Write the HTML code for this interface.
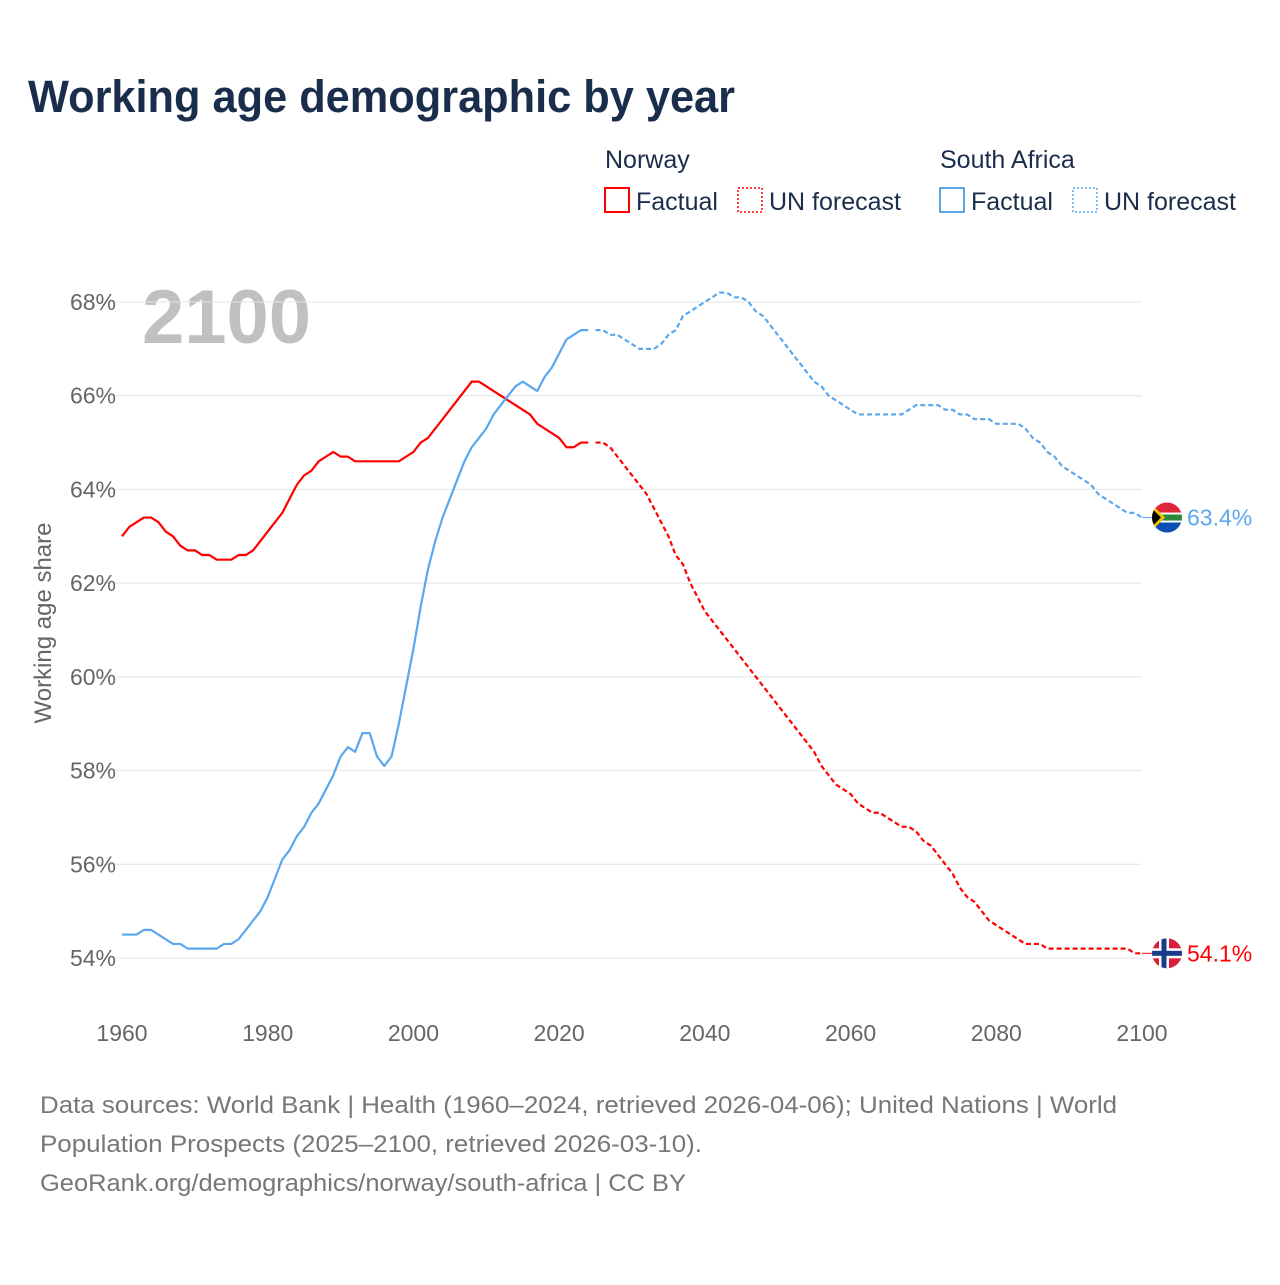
<!DOCTYPE html>
<html><head><meta charset="utf-8"><style>
body{margin:0;background:#fff;font-family:"Liberation Sans",sans-serif}
svg text{font-family:"Liberation Sans",sans-serif}
</style></head><body>
<svg id="c" width="1280" height="1280" viewBox="0 0 1280 1280" xmlns="http://www.w3.org/2000/svg">
<text x="28" y="112" font-size="45" font-weight="bold" fill="#1a2e4c" textLength="707" lengthAdjust="spacingAndGlyphs">Working age demographic by year</text>
<g font-size="25" fill="#1a2e4c">
<text x="605" y="168">Norway</text>
<text x="940" y="168">South Africa</text>
<g><rect x="605" y="188" width="24" height="24" fill="none" stroke="#f00" stroke-width="2"/><text x="636" y="210">Factual</text></g>
<g><rect x="738" y="188" width="24" height="24" fill="none" stroke="#f00" stroke-width="1.5" stroke-dasharray="2,2"/><text x="769" y="210">UN forecast</text></g>
<g><rect x="940" y="188" width="24" height="24" fill="none" stroke="#5aa7ee" stroke-width="2"/><text x="971" y="210">Factual</text></g>
<g><rect x="1073" y="188" width="24" height="24" fill="none" stroke="#5aa7ee" stroke-width="1.5" stroke-dasharray="2,2"/><text x="1104" y="210">UN forecast</text></g>
</g>
<text x="142" y="343" font-size="76" font-weight="bold" fill="#c0c0c0">2100</text>
<g id="grid"></g><g id="lines"></g>
<text transform="translate(51,623) rotate(-90)" text-anchor="middle" font-size="24" fill="#666">Working age share</text>
<g font-size="24" fill="#777">
<text x="40" y="1113" textLength="1077" lengthAdjust="spacingAndGlyphs">Data sources: World Bank | Health (1960–2024, retrieved 2026-04-06); United Nations | World</text>
<text x="40" y="1152" textLength="662" lengthAdjust="spacingAndGlyphs">Population Prospects (2025–2100, retrieved 2026-03-10).</text>
<text x="40" y="1191" textLength="646" lengthAdjust="spacingAndGlyphs">GeoRank.org/demographics/norway/south-africa | CC BY</text>
</g>
</svg>
<script>
const yTicks=[54,56,58,60,62,64,66,68];
const xTicks=[1960,1980,2000,2020,2040,2060,2080,2100];
const norFact=[63.0,63.2,63.3,63.4,63.4,63.3,63.1,63.0,62.8,62.7,62.7,62.6,62.6,62.5,62.5,62.5,62.6,62.6,62.7,62.9,63.1,63.3,63.5,63.8,64.1,64.3,64.4,64.6,64.7,64.8,64.7,64.7,64.6,64.6,64.6,64.6,64.6,64.6,64.6,64.7,64.8,65.0,65.1,65.3,65.5,65.7,65.9,66.1,66.3,66.3,66.2,66.1,66.0,65.9,65.8,65.7,65.6,65.4,65.3,65.2,65.1,64.9,64.9,65.0,65.0];
const norFc=[65.0,65.0,64.9,64.7,64.5,64.3,64.1,63.9,63.6,63.3,63.0,62.6,62.4,62.0,61.7,61.4,61.2,61.0,60.8,60.6,60.4,60.2,60.0,59.8,59.6,59.4,59.2,59.0,58.8,58.6,58.4,58.1,57.9,57.7,57.6,57.5,57.3,57.2,57.1,57.1,57.0,56.9,56.8,56.8,56.7,56.5,56.4,56.2,56.0,55.8,55.5,55.3,55.2,55.0,54.8,54.7,54.6,54.5,54.4,54.3,54.3,54.3,54.2,54.2,54.2,54.2,54.2,54.2,54.2,54.2,54.2,54.2,54.2,54.2,54.1,54.1];
const saFact=[54.5,54.5,54.5,54.6,54.6,54.5,54.4,54.3,54.3,54.2,54.2,54.2,54.2,54.2,54.3,54.3,54.4,54.6,54.8,55.0,55.3,55.7,56.1,56.3,56.6,56.8,57.1,57.3,57.6,57.9,58.3,58.5,58.4,58.8,58.8,58.3,58.1,58.3,59.0,59.8,60.6,61.5,62.3,62.9,63.4,63.8,64.2,64.6,64.9,65.1,65.3,65.6,65.8,66.0,66.2,66.3,66.2,66.1,66.4,66.6,66.9,67.2,67.3,67.4,67.4];
const saFc=[67.4,67.4,67.3,67.3,67.2,67.1,67.0,67.0,67.0,67.1,67.3,67.4,67.7,67.8,67.9,68.0,68.1,68.2,68.2,68.1,68.1,68.0,67.8,67.7,67.5,67.3,67.1,66.9,66.7,66.5,66.3,66.2,66.0,65.9,65.8,65.7,65.6,65.6,65.6,65.6,65.6,65.6,65.6,65.7,65.8,65.8,65.8,65.8,65.7,65.7,65.6,65.6,65.5,65.5,65.5,65.4,65.4,65.4,65.4,65.3,65.1,65.0,64.8,64.7,64.5,64.4,64.3,64.2,64.1,63.9,63.8,63.7,63.6,63.5,63.5,63.4];
const X=y=>122+(y-1960)*1020/140, Y=v=>302+(68-v)*656/14;
const NS="http://www.w3.org/2000/svg";
const grid=document.getElementById('grid'), lines=document.getElementById('lines'), svg=document.getElementById('c');
function mk(t,a,p){const e=document.createElementNS(NS,t);for(const k in a)e.setAttribute(k,a[k]);(p||svg).appendChild(e);return e;}
yTicks.forEach(v=>{
 const l=mk('line',{x1:100,x2:1142,y1:Y(v),y2:Y(v),stroke:'#e4e4e4','stroke-width':1},grid);
 
 
 const t=mk('text',{x:116,y:Y(v)+8,'text-anchor':'end','font-size':23,fill:'#666'},grid);t.textContent=v+'%';
 
 
});
xTicks.forEach(y=>{
 const t=mk('text',{x:X(y),y:1041,'text-anchor':'middle','font-size':23,fill:'#666'},grid);t.textContent=y;
 
 
});
function path(arr,start,color,dash,name){
 const d=arr.map((v,i)=>(i?'L':'M')+X(start+i).toFixed(2)+','+Y(v).toFixed(2)).join('');
 const p=mk('path',{d:d,fill:'none',stroke:color,'stroke-width':2.2,'stroke-linejoin':'round'},lines);
 if(dash)p.setAttribute('stroke-dasharray',dash);
 
 
}
path(norFact,1960,'#f00',null,'norway-factual-line');
path(norFc,2025,'#f00','5,3','norway-forecast-line');
path(saFact,1960,'#5aa7ee',null,'south-africa-factual-line');
path(saFc,2025,'#5aa7ee','5,3','south-africa-forecast-line');
function endLabel(arr,color,name,flag){
 const v=arr[arr.length-1], y=Y(v);
 mk('line',{x1:1142,x2:1152,y1:y,y2:y,stroke:color,'stroke-width':1},lines);
 const g=mk('g',{},lines);
 
 
 const cx=1167;
 const clip=mk('clipPath',{id:name+'c'},g);mk('circle',{cx:cx,cy:y,r:15},clip);
 const inner=mk('g',{'clip-path':'url(#'+name+'c)'},g);
 flag(inner,cx,y);
 const t=mk('text',{x:1187,y:y+8,'font-size':23,fill:color},lines);t.textContent=v.toFixed(1)+'%';
 
 
}
endLabel(saFc,'#5aa7ee','south-africa',(g,cx,cy)=>{
 mk('rect',{x:cx-15,y:cy-15,width:30,height:15,fill:'#e0263c'},g);
 mk('rect',{x:cx-15,y:cy,width:30,height:15,fill:'#0a4fb0'},g);
 mk('rect',{x:cx-15,y:cy-5,width:30,height:10,fill:'#fff'},g);
 mk('rect',{x:cx-15,y:cy-3,width:30,height:6,fill:'#2a8a3a'},g);
 mk('polygon',{points:`${cx-15},${cy-13} ${cx-2},${cy} ${cx-15},${cy+13}`,fill:'#f2c200'},g);
 mk('polygon',{points:`${cx-15},${cy-9} ${cx-6},${cy} ${cx-15},${cy+9}`,fill:'#000'},g);
});
endLabel(norFc,'#f00','norway',(g,cx,cy)=>{
 mk('rect',{x:cx-15,y:cy-15,width:30,height:30,fill:'#d8203a'},g);
 mk('rect',{x:cx-15,y:cy-5,width:30,height:10,fill:'#fff'},g);
 mk('rect',{x:cx-8,y:cy-15,width:10,height:30,fill:'#fff'},g);
 mk('rect',{x:cx-15,y:cy-2.5,width:30,height:5,fill:'#1a3a8a'},g);
 mk('rect',{x:cx-5.5,y:cy-15,width:5,height:30,fill:'#1a3a8a'},g);
});
</script>
</body></html>
